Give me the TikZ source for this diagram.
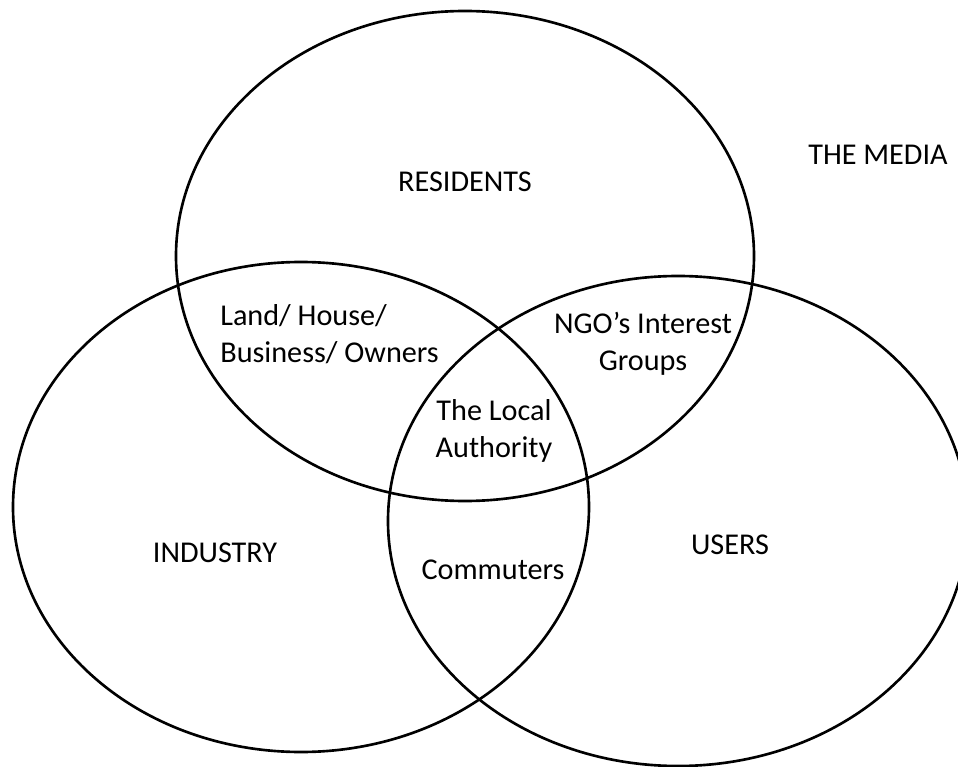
\documentclass[tikz,border=0pt]{standalone}
\usepackage{fontspec}
\setmainfont{Carlito}
\usepackage{tikz}

\begin{document}
\begin{tikzpicture}[x=0.02cm,y=-0.02cm,line width=1.5pt,
    every node/.style={font=\fontsize{17.2}{21}\selectfont,inner sep=0pt}]
  \useasboundingbox (0,0) rectangle (958,767);
  \clip (0,0) rectangle (958,767);
  % the three groups
  \coordinate (res) at (465,256);
  \coordinate (ind) at (301,507);
  \coordinate (usr) at (678,521);
  \draw (res) ellipse [x radius=289,y radius=245];
  \draw (ind) ellipse [x radius=288,y radius=245];
  \draw (usr) ellipse [x radius=290,y radius=245];
  % labels
  \node (residents) at (465,182) {RESIDENTS};
  \node (media) at (878,155) {THE MEDIA};
  \node (industry) at (215,553) {INDUSTRY};
  \node (users) at (730,545) {USERS};
  \node [align=left,anchor=west] (owners) at (219,334) {Land/ House/\\Business/ Owners};
  \node [align=center] (ngo) at (643,344) {NGO’s Interest\\Groups};
  \node [align=center] (authority) at (494,431) {The Local\\Authority};
  \node (commuters) at (493,570) {Commuters};
\end{tikzpicture}
\end{document}
